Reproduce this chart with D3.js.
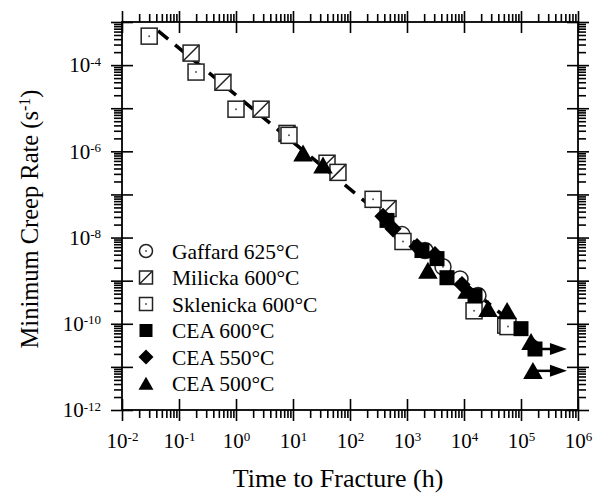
<!DOCTYPE html>
<html>
<head>
<meta charset="utf-8">
<script src="https://cdn.jsdelivr.net/npm/d3@7"></script>
<style>
  body { margin: 0; background: #fff; }
  svg { display: block; font-family: "Liberation Serif", "Times New Roman", serif; }
</style>
</head>
<body>
<div id="plot"></div>
<script>
// Data (time to fracture in h, minimum creep rate in 1/s)
const gaffardTime = [817, 2070, 4280, 8500, 17600];
const gaffardRate = [1.17e-8, 5.0e-9, 2.1e-9, 1.1e-9, 4.5e-10];

const milickaTime = [0.163, 0.59, 2.75, 7.85, 39.5, 61.5, 465];
const milickaRate = [1.9e-4, 4.0e-5, 9.5e-6, 2.6e-6, 5.3e-7, 3.25e-7, 4.7e-8];

const sklenickaTime = [0.030, 0.199, 1.0, 8.5, 254, 850, 15000, 54000, 59000];
const sklenickaRate = [4.7e-4, 6.9e-5, 9.5e-6, 2.35e-6, 7.7e-8, 8.1e-9, 2.0e-10, 9.3e-11, 8.6e-11];

const cea600Time = [446, 1830, 3360, 5030, 15600, 100000, 176000];
const cea600Rate = [2.5e-8, 5.0e-9, 3.25e-9, 1.17e-9, 4.5e-10, 7.7e-11, 2.6e-11];

const cea550Time = [379, 568, 1500, 3100, 9230];
const cea550Rate = [3.1e-8, 1.6e-8, 6.2e-9, 4.0e-9, 8.1e-10];

const cea500Time = [15, 33.6, 2330, 11300, 26400, 57000, 150000, 162000];
const cea500Rate = [9.0e-7, 4.7e-7, 1.7e-9, 5.85e-10, 2.2e-10, 2.0e-10, 3.8e-11, 8.1e-12];

// Unbroken specimens (run-out arrows)
const runoutTime = [176000, 162000];
const runoutRate = [2.6e-11, 8.1e-12];
const runoutEnd = 640000;

// Fitted line, two end points
const fitTime = [0.043, 215000];
const fitRate = [6.2e-4, 3.1e-11];

// Axis ticks
const xMajor = [1e-2, 1e-1, 1e0, 1e1, 1e2, 1e3, 1e4, 1e5, 1e6];
const yMajor = [1e-12, 1e-11, 1e-10, 1e-9, 1e-8, 1e-7, 1e-6, 1e-5, 1e-4, 1e-3];
const yLabelled = [1e-12, 1e-10, 1e-8, 1e-6, 1e-4];

const legendLabels = ["Gaffard 625°C", "Milicka 600°C", "Sklenicka 600°C", "CEA 600°C", "CEA 550°C", "CEA 500°C"];
const legendShapes = ["circle", "milicka", "sklenicka", "square", "diamond", "triangle"];

function zip(ts, rs) { return ts.map((t, i) => ({ t: t, r: rs[i] })); }

function minorTicks(majors) {
    const out = [];
    majors.slice(0, -1).forEach(function(m) {
        for (let k = 2; k <= 9; k++) out.push(m * k);
    });
    return out;
}

const width = 596, height = 496;
const plotLeft = 122, plotRight = 578, plotTop = 22, plotBottom = 410;

const svg = d3.select("#plot").append("svg")
    .attr("width", width)
    .attr("height", height);

const x = d3.scaleLog().domain([1e-2, 1e6]).range([plotLeft, plotRight]);
const y = d3.scaleLog().domain([1e-12, 1e-3]).range([plotBottom, plotTop]);

// superscript labels like 10^-4
function decadeLabel(sel) {
    sel.each(function(d) {
        const t = d3.select(this);
        const e = Math.round(Math.log10(d));
        t.text(null);
        t.append("tspan").text("10");
        t.append("tspan").attr("dy", "-0.5em").attr("font-size", "0.62em").text(e);
    });
}

function styleAxis(g) {
    g.select(".domain").remove();
    g.selectAll("line").attr("stroke", "#000").attr("stroke-width", 1.6);
    g.selectAll("text").attr("fill", "#000").attr("font-family", "Liberation Serif, serif");
}

const xMinor = minorTicks(xMajor);
const yMinor = minorTicks(yMajor);

// bottom axis: minor ticks outside, major ticks crossing
svg.append("g").attr("transform", `translate(0,${plotBottom})`)
    .call(d3.axisBottom(x).tickValues(xMinor).tickSize(8).tickFormat(""))
    .call(styleAxis);
svg.append("g").attr("transform", `translate(0,${plotBottom})`)
    .call(d3.axisTop(x).tickValues(xMajor).tickSize(11).tickFormat(""))
    .call(styleAxis);
svg.append("g").attr("transform", `translate(0,${plotBottom})`)
    .call(d3.axisBottom(x).tickValues(xMajor).tickSize(11).tickPadding(12))
    .call(styleAxis)
    .call(g => g.selectAll("text").attr("font-size", 21).call(decadeLabel));

// top axis
svg.append("g").attr("transform", `translate(0,${plotTop})`)
    .call(d3.axisTop(x).tickValues(xMinor).tickSize(8).tickFormat(""))
    .call(styleAxis);
svg.append("g").attr("transform", `translate(0,${plotTop})`)
    .call(d3.axisTop(x).tickValues(xMajor).tickSize(11).tickFormat(""))
    .call(styleAxis);
svg.append("g").attr("transform", `translate(0,${plotTop})`)
    .call(d3.axisBottom(x).tickValues(xMajor).tickSize(11).tickFormat(""))
    .call(styleAxis);

// left axis
svg.append("g").attr("transform", `translate(${plotLeft},0)`)
    .call(d3.axisLeft(y).tickValues(yMinor).tickSize(8).tickFormat(""))
    .call(styleAxis);
svg.append("g").attr("transform", `translate(${plotLeft},0)`)
    .call(d3.axisRight(y).tickValues(yMajor).tickSize(11).tickFormat(""))
    .call(styleAxis);
svg.append("g").attr("transform", `translate(${plotLeft},0)`)
    .call(d3.axisLeft(y).tickValues(yMajor).tickSize(11).tickPadding(10)
        .tickFormat(d => yLabelled.some(v => Math.abs(Math.log10(v) - Math.log10(d)) < 1e-6) ? "x" : ""))
    .call(styleAxis)
    .call(g => g.selectAll("text").filter(function() { return this.textContent === "x"; })
        .attr("font-size", 21).call(decadeLabel));

// right axis
svg.append("g").attr("transform", `translate(${plotRight},0)`)
    .call(d3.axisRight(y).tickValues(yMinor).tickSize(8).tickFormat(""))
    .call(styleAxis);
svg.append("g").attr("transform", `translate(${plotRight},0)`)
    .call(d3.axisRight(y).tickValues(yMajor).tickSize(11).tickFormat(""))
    .call(styleAxis);
svg.append("g").attr("transform", `translate(${plotRight},0)`)
    .call(d3.axisLeft(y).tickValues(yMajor).tickSize(11).tickFormat(""))
    .call(styleAxis);

// frame
svg.append("rect")
    .attr("x", plotLeft).attr("y", plotTop)
    .attr("width", plotRight - plotLeft).attr("height", plotBottom - plotTop)
    .attr("fill", "none").attr("stroke", "#000").attr("stroke-width", 1.8);

// axis titles
svg.append("text")
    .attr("x", 338).attr("y", 487)
    .attr("text-anchor", "middle")
    .attr("font-size", 26)
    .text("Time to Fracture (h)");

const yTitle = svg.append("text")
    .attr("transform", "translate(38,219) rotate(-90)")
    .attr("text-anchor", "middle")
    .attr("font-size", 24.5);
yTitle.append("tspan").text("Minimum Creep Rate (s");
yTitle.append("tspan").attr("dy", "-0.5em").attr("font-size", "0.65em").text("-1");
yTitle.append("tspan").attr("dy", "0.32em").text(")");

// fitted dashed line
const line = d3.line().x(d => x(d.t)).y(d => y(d.r));
svg.append("path")
    .datum(zip(fitTime, fitRate))
    .attr("d", line)
    .attr("fill", "none")
    .attr("stroke", "#000")
    .attr("stroke-width", 3.5)
    .attr("stroke-dasharray", "13,9");

// marker drawing
function drawMarker(g, shape, s) {
    const h = s / 2;
    if (shape === "circle") {
        g.append("circle").attr("r", h).attr("fill", "#fff").attr("stroke", "#222").attr("stroke-width", 1.5);
        g.append("circle").attr("r", 1).attr("fill", "#555");
    } else if (shape === "milicka") {
        g.append("rect").attr("x", -h).attr("y", -h).attr("width", s).attr("height", s)
            .attr("fill", "#fff").attr("stroke", "#222").attr("stroke-width", 1.5);
        g.append("line").attr("x1", -h).attr("y1", h).attr("x2", h).attr("y2", -h)
            .attr("stroke", "#222").attr("stroke-width", 1.5);
    } else if (shape === "sklenicka") {
        g.append("rect").attr("x", -h).attr("y", -h).attr("width", s).attr("height", s)
            .attr("fill", "#fff").attr("stroke", "#222").attr("stroke-width", 1.5);
        g.append("circle").attr("r", 1).attr("fill", "#555");
    } else if (shape === "square") {
        g.append("rect").attr("x", -h).attr("y", -h).attr("width", s).attr("height", s).attr("fill", "#000");
    } else if (shape === "diamond") {
        const d = h * 1.15;
        g.append("path").attr("d", `M0,${-d}L${d},0L0,${d}L${-d},0Z`).attr("fill", "#000");
    } else if (shape === "triangle") {
        const w = h * 1.15;
        g.append("path").attr("d", `M0,${-h * 1.05}L${w},${h * 0.95}L${-w},${h * 0.95}Z`).attr("fill", "#000");
    }
}

function plotSeries(ts, rs, shape, s) {
    svg.append("g").selectAll("g")
        .data(zip(ts, rs))
        .enter().append("g")
        .attr("transform", d => `translate(${x(d.t)},${y(d.r)})`)
        .each(function() { drawMarker(d3.select(this), shape, s); });
}

plotSeries(gaffardTime, gaffardRate, "circle", 16);
plotSeries(milickaTime, milickaRate, "milicka", 16);
plotSeries(sklenickaTime, sklenickaRate, "sklenicka", 16);
plotSeries(cea600Time, cea600Rate, "square", 15);
plotSeries(cea550Time, cea550Rate, "diamond", 15);
plotSeries(cea500Time, cea500Rate, "triangle", 17);

// run-out arrows
const arrows = svg.append("g").selectAll("g")
    .data(zip(runoutTime, runoutRate))
    .enter().append("g");
arrows.append("line")
    .attr("x1", d => x(d.t)).attr("y1", d => y(d.r))
    .attr("x2", x(runoutEnd) - 14).attr("y2", d => y(d.r))
    .attr("stroke", "#000").attr("stroke-width", 2.5);
arrows.append("path")
    .attr("d", d => {
        const tx = x(runoutEnd), ty = y(d.r);
        return `M${tx},${ty}L${tx - 17},${ty - 6}L${tx - 17},${ty + 6}Z`;
    })
    .attr("fill", "#000");

// legend
const legend = svg.append("g").selectAll("g")
    .data(legendLabels)
    .enter().append("g")
    .attr("transform", (d, i) => `translate(146,${251 + i * 26.5})`);
legend.each(function(d, i) { drawMarker(d3.select(this), legendShapes[i], 13); });
legend.append("text")
    .attr("x", 26).attr("dy", "0.36em")
    .attr("font-size", 21.5)
    .text(d => d);
</script>
</body>
</html>
